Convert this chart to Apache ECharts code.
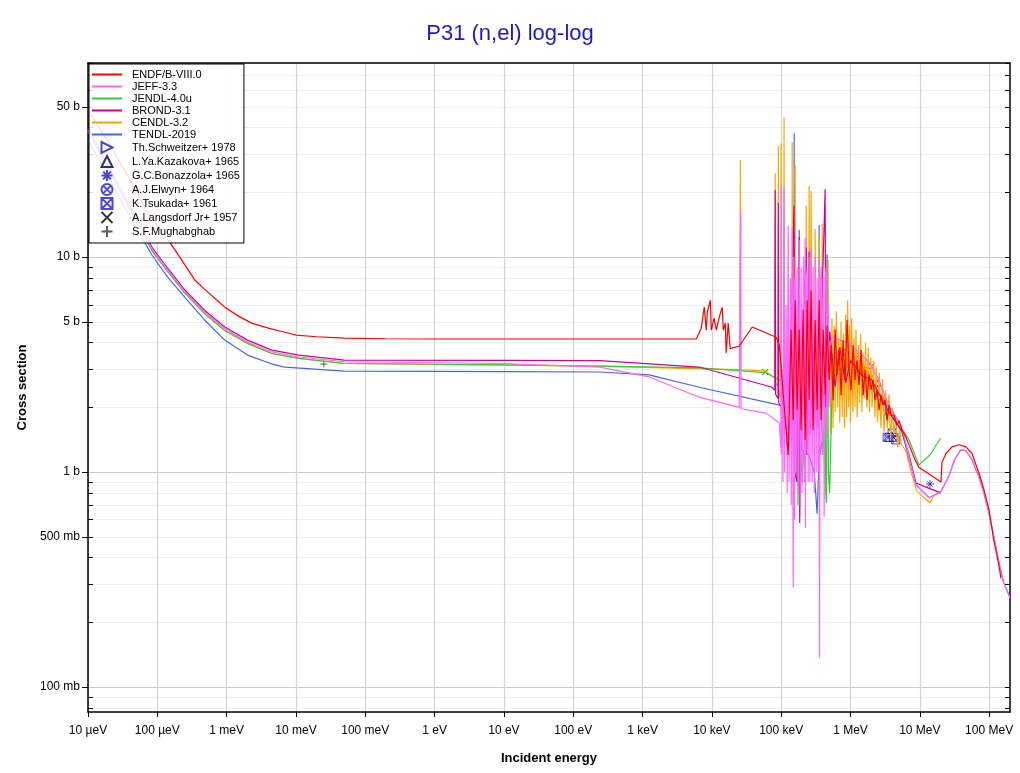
<!DOCTYPE html>
<html>
<head>
<meta charset="utf-8">
<script src="https://cdn.jsdelivr.net/npm/echarts@6/dist/echarts.min.js"></script>
<style>html,body{margin:0;padding:0;background:#fff}#container1{width:1020px;height:773px}</style>
</head>
<body>
<div id="container1"></div>
<script>
var myChart = echarts.init(document.getElementById('container1'));

// axis ticks
const xTickValues = [1e-5,1e-4,1e-3,1e-2,1e-1,1,10,100,1e3,1e4,1e5,1e6,1e7,1e8];
const xTickLabels = ['10 µeV','100 µeV','1 meV','10 meV','100 meV','1 eV','10 eV','100 eV','1 keV','10 keV','100 keV','1 MeV','10 MeV','100 MeV'];
const yTickValues = [0.1,0.5,1,5,10,50];
const yTickLabels = ['100 mb','500 mb','1 b','5 b','10 b','50 b'];
const yDecades = [0.1,1,10];
const yMinor = [0.08,0.09,0.2,0.3,0.4,0.5,0.6,0.7,0.8,0.9,2,3,4,5,6,7,8,9,20,30,40,50,60,70,80];

// evaluated data [E (eV), sigma (b)]
const endf = [[1e-5,48],[2e-5,34],[4e-5,23],[7e-5,16.5],[1e-4,14],[1.7e-4,11.1],[2.5e-4,9.2],[3.5e-4,7.8],[5e-4,7.0],[7e-4,6.37],[9.4e-4,5.85],[1.5e-3,5.3],[2.3e-3,4.93],[4e-3,4.67],[6e-3,4.52],[1e-2,4.34],[2e-2,4.26],[0.05,4.2],[0.2,4.17],[1,4.16],[100,4.16],[5960,4.16],
[7030,4.67],[7760,5.85],[8300,4.58],[8600,5.54],[9500,6.3],[9800,4.58],[10800,5.2],[11600,4.58],[12800,5.26],[14100,5.85],[14600,4.58],[15600,4.93],[16100,3.58],[17200,4.93],[18400,3.74],[19700,3.78],[24800,3.85],[38200,4.73],[84700,4.24],
[9.4e4,3.9],[1.03e5,2.68],[1.26e5,1.2],[1.39e5,4.6],[1.49e5,1.74],[1.59e5,6.3],[1.7e5,1.94],[1.82e5,4.6],[1.94e5,1.57],[2.07e5,5.7],[2.22e5,1.41],[2.37e5,6.3],[2.53e5,2.16],[2.7e5,7.0],[2.89e5,1.57],[3.09e5,5.1],[3.3e5,1.94],[3.53e5,6.3],[3.77e5,1.74],[4.03e5,4.6],[4.31e5,2.28],[4.6e5,4.8],[4.92e5,2.68],[5.25e5,3.9],[5.61e5,2.16],[6.0e5,4.6],[6.41e5,2.83],[6.86e5,3.7],[7.32e5,2.28],[7.82e5,4.1],[8.36e5,2.68],[8.93e5,5.1],[9.55e5,2.98],[1.02e6,2.41],[1.09e6,3.9],[1.16e6,2.68],[1.24e6,3.3],[1.33e6,2.54],[1.42e6,3.7],[1.52e6,2.28],[1.62e6,2.98],[1.73e6,2.16],[1.85e6,2.83],[1.98e6,2.41],[2.12e6,2.68],[2.26e6,2.16],[2.42e6,2.41],[2.58e6,1.94],[2.76e6,2.28],[2.95e6,2.05],[3.15e6,2.16],[3.37e6,1.74],[3.6e6,2.05],[3.85e6,1.84],[4.25e6,1.84],[4.69e6,1.65],[5.01e6,1.74],[5.54e6,1.57],[6.33e6,1.45],[7.47e6,1.27],[8.53e6,1.14],[9.73e6,1.05],[1.36e7,0.98],[2.02e7,0.9],[2.09e7,1.11],[2.39e7,1.22],[2.91e7,1.31],[3.67e7,1.34],[4.63e7,1.31],[5.65e7,1.22],[7.13e7,0.99],[8.41e7,0.83],[9.93e7,0.67],[1.17e8,0.48],[1.38e8,0.37],[1.48e8,0.32]];

const jeff = [[1e-5,39.2],[2e-5,25.7],[4e-5,17],[8.4e-5,10.9],[1.4e-4,8.7],[2.5e-4,6.9],[4.8e-4,5.55],[9.4e-4,4.64],[2e-3,4.03],[4.5e-3,3.62],[1.1e-2,3.43],[0.05,3.26],[10,3.2],[240,3.08],[1250,2.77],[6600,2.23],[24800,2.0],[26000,1.98],[26100,16.5],[26300,1.97],[61000,1.88],[94000,1.69],
[99000,1.3],[99800,21.4],[100500,1.2],[104000,3],[106000,0.9],[110000,21],[112000,1.0],[118000,6],[122000,0.8],[126000,14],[130000,0.9],[136000,8],[140000,0.7],[144000,13.4],[149000,0.29],[152000,10],[156000,0.6],[159000,8],[164000,1.0],[170000,9],[175000,0.8],[182000,12],[188000,0.7],[194000,9],[200000,0.8],[210000,10],[216000,0.9],[222000,12.3],[224000,0.55],[230000,8],[237000,9],[245000,0.9],[253000,10],[260000,0.9],[270000,11],[280000,0.9],[289000,9],[300000,0.8],[309000,10],[320000,1.0],[330000,8],[340000,1.0],[353000,9.7],[357000,0.137],[365000,7],[377000,9],[390000,1.2],[403000,8],[417000,0.62],[430000,8],[446000,9],[460000,1.5],[476000,6],[490000,2],[508000,4.0],
[550000,4.24],[955000,3.97],[1.85e6,3.25],[2.58e6,2.68],[3.4e6,2.1],[5.5e6,1.62],[7.0e6,1.17],[8.8e6,0.87],[1.36e7,0.76],[2.0e7,0.81],[2.6e7,0.95],[3.2e7,1.15],[3.9e7,1.27],[4.6e7,1.26],[5.6e7,1.15],[7.1e7,0.95],[8.4e7,0.8],[9.9e7,0.65],[1.17e8,0.5],[1.38e8,0.38],[1.6e8,0.31],[2e8,0.26]];

const jendl = [[1e-5,38.6],[2e-5,25.3],[4e-5,16.7],[8.4e-5,10.7],[1.4e-4,8.6],[2.5e-4,6.8],[4.8e-4,5.46],[9.4e-4,4.56],[2e-3,3.97],[4.5e-3,3.56],[1.1e-2,3.38],[0.05,3.2],[10,3.15],[240,3.11],[6600,3.05],[60000,2.9],[94000,2.68],[130000,2.5],[148000,2.3],[150000,13.1],[152000,0.64],[160000,2.3],[165000,0.9],[170000,4],[175000,0.7],[180000,3.0],[200000,0.9],[220000,1.5],[250000,4.0],[300000,1.6],[350000,3.5],[400000,1.2],[430000,2.0],[440000,0.8],[450000,0.72],[460000,4],[470000,3.5],[480000,1.0],[500000,0.8],[550000,2.9],[650000,3.0],[1e6,3.0],[1.4e6,2.9],[1.85e6,2.59],[2.5e6,2.2],[4e6,1.94],[5.5e6,1.6],[7e6,1.41],[9.7e6,1.08],[1.4e7,1.2],[2.0e7,1.44]];

const brond = [[1e-5,40],[2e-5,26.2],[4e-5,17.3],[8.4e-5,11.1],[1.4e-4,8.9],[2.5e-4,7.03],[4.8e-4,5.66],[9.4e-4,4.73],[2e-3,4.11],[4.5e-3,3.69],[1.1e-2,3.5],[0.05,3.32],[10,3.31],[240,3.3],[6600,3.08],[74000,2.48],[81000,2.4],[82000,20.5],[83000,2.3],[90000,2.2],[91000,17.9],[92000,2.1],[110000,1.9],[130000,1.3],[153000,17.4],[156000,1.0],[170000,0.9],[182000,12.4],[185000,0.58],[200000,3.0],[230000,11.1],[235000,1.2],[253000,10.6],[260000,1.5],[300000,4.0],[340000,1.6],[380000,5.0],[431000,20.7],[440000,2.0],[500000,4.5],[600000,2.5],[700000,3.8],[850000,2.6],[1e6,3.3],[1.5e6,2.8],[2e6,2.7],[3e6,2.1],[4e6,1.8],[5.5e6,1.55],[7e6,1.2],[8.8e6,0.89],[1.36e7,0.84],[2.0e7,0.8]];

const cendl = [[1e-5,38.6],[2e-5,25.3],[4e-5,16.7],[8.4e-5,10.7],[1.4e-4,8.6],[2.5e-4,6.8],[4.8e-4,5.46],[9.4e-4,4.56],[2e-3,3.97],[4.5e-3,3.56],[1.1e-2,3.38],[0.05,3.2],[240,3.11],[6600,3.02],[25000,3.0],[25800,28.3],[26200,3.0],[59000,2.95],[80000,2.75],[81500,2.7],[82000,24.6],[83000,2.6],[90000,2.5],[91000,32.9],[92000,2.4],[99000,2.2],[99800,33.9],[101000,2.0],[109000,1.8],[110000,44.8],[112000,1.6],[143000,1.5],[144000,34.2],[146000,1.4],[158000,1.5],[159000,26.8],[161000,1.5],[228000,2],[230000,17.4],[233000,2],[251000,2],[253000,21.4],[262000,2],[270000,20.3],[280000,2],[305000,2.2],[309000,13.5],[320000,2.2],[350000,2.5],[353000,12.4],[360000,2.4],[386000,2.6],[390000,14.3],[400000,2.6],[470000,2.8],[476000,9.7],[485000,2.5],
[505000,4.5],[520000,1.5],[540000,5.2],[560000,1.6],[580000,4.8],[600000,1.9],[625000,5.6],[650000,2.0],[675000,4.2],[700000,1.7],[730000,5.0],[760000,1.8],[790000,4.4],[820000,1.6],[850000,5.4],[880000,1.8],[910000,6.3],[940000,2.0],[970000,4.8],[1.0e6,1.7],[1.04e6,5.2],[1.08e6,1.9],[1.12e6,4.2],[1.16e6,2.0],[1.2e6,4.6],[1.25e6,1.8],[1.3e6,3.9],[1.35e6,2.1],[1.4e6,4.4],[1.46e6,1.9],[1.52e6,3.6],[1.58e6,2.2],[1.65e6,4.0],[1.72e6,2.0],[1.8e6,3.8],[1.88e6,1.9],[1.96e6,3.4],[2.05e6,2.0],[2.15e6,3.3],[2.25e6,1.8],[2.35e6,3.1],[2.45e6,1.7],[2.6e6,2.9],[2.75e6,1.6],[2.9e6,2.7],[3.05e6,1.5],[3.2e6,2.4],[3.4e6,1.6],[3.6e6,2.3],[3.8e6,1.4],[4.0e6,2.0],[4.25e6,1.5],[4.5e6,1.8],[4.8e6,1.3],[5.1e6,1.6],[5.4e6,1.35],[6.3e6,1.25],[7.5e6,1.0],[9e6,0.82],[1.15e7,0.76],[1.4e7,0.72],[1.6e7,0.78],[2.0e7,0.8]];

const tendl = [[1e-5,35],[2e-5,23.5],[4e-5,15.5],[8.4e-5,10.2],[1.4e-4,8.1],[2.5e-4,6.5],[4.8e-4,5.1],[9.4e-4,4.11],[2e-3,3.5],[4.5e-3,3.18],[6.9e-3,3.08],[0.05,2.95],[10,2.93],[240,2.92],[1250,2.83],[6600,2.48],[94000,2.05],[103000,2.02],[130000,2.0],[145000,1.8],[152000,1.7],[154000,37.7],[156000,1.5],[180000,1.35],[182000,13.4],[186000,1.3],[250000,1.2],[300000,1.0],[330000,0.64],[350000,1.1],[353000,14.1],[360000,1.2],[420000,1.6],[460000,10.3],[470000,2.0],[550000,3.5],[700000,3.2],[1e6,3.0],[1.5e6,2.8],[2e6,2.6],[3e6,2.2],[4e6,1.85],[5.5e6,1.55],[7e6,1.15],[8.8e6,0.87],[1.36e7,0.76],[2.0e7,0.81],[2.6e7,0.95],[3.2e7,1.15],[3.9e7,1.27],[4.6e7,1.26],[5.6e7,1.15],[7.1e7,0.95],[8.4e7,0.8],[9.9e7,0.65],[1.17e8,0.5],[1.38e8,0.38],[1.6e8,0.31],[2e8,0.26]];

// experimental data
const schweitzer = [[3.2e5,3.3],[3.4e5,2.9],[5.0e5,2.6],[7.5e5,3.5],[7.8e5,2.8],[9.0e5,3.0],[1.1e6,3.3],[1.4e6,3.0],[1.9e6,2.8],[2.3e6,2.5],[3.0e6,2.2],[3.5e6,1.9]];
const kazakova = [[1.5e6,3.1],[2.5e6,2.6]];
const bonazzola = [[1.4e7,0.88]];
const elwyn = [[1.05e6,2.9],[1.3e6,3.2]];
const tsukada = [[3.37e6,1.45],[3.6e6,1.45],[3.98e6,1.52],[4.2e6,1.45],[4.5e6,1.41]];
const langsdorf = [[5.9e4,2.92],[5.6e5,3.5],[8e5,3.7],[1.2e6,3.5],[1.6e6,3.0],[2e6,3.1]];
const mughabghab = [[0.0253,3.18]];

initChart();

function initChart(){
const font = 'Liberation Sans, Arial, sans-serif';
const xMin = 1e-5, xMax = 2e8, yMin = 0.0765, yMax = 80;
const lineIcon = 'path://M0,0 L30,0 L30,2 L0,2 Z';

function labelOf(vals, labels, v){
    for (var i = 0; i < vals.length; i++) {
        if (Math.abs(Math.log10(vals[i]) - Math.log10(v)) < 1e-6) return labels[i];
    }
    return '';
}

function lineSeries(name, data, color){
    return {name: name, type: 'line', data: data, symbol: 'none', silent: true,
        lineStyle: {width: 1.2, color: color}, itemStyle: {color: color}};
}
function markSeries(name, data, symbol, color, size){
    return {name: name, type: 'scatter', data: data, symbol: symbol, symbolSize: size || 6,
        itemStyle: {color: 'rgba(0,0,0,0)', borderColor: color, borderWidth: 1}};
}

const sTriR = 'path://M0,0 L10,5 L0,10 Z';
const sTriU = 'path://M5,0 L10,10 L0,10 Z';
const sStar = 'path://M5,0 L5,10 M0,5 L10,5 M1.5,1.5 L8.5,8.5 M8.5,1.5 L1.5,8.5';
const sCircX = 'path://M10,5 A5,5 0 1 1 0,5 A5,5 0 1 1 10,5 Z M1.5,1.5 L8.5,8.5 M8.5,1.5 L1.5,8.5';
const sBoxX = 'path://M0,0 L10,0 L10,10 L0,10 Z M0,0 L10,10 M10,0 L0,10';
const sX = 'path://M0,0 L10,10 M10,0 L0,10';
const sPlus = 'path://M5,0 L5,10 M0,5 L10,5';

var libs = ['ENDF/B-VIII.0','JEFF-3.3','JENDL-4.0u','BROND-3.1','CENDL-3.2','TENDL-2019'];
var exps = ['Th.Schweitzer+ 1978','L.Ya.Kazakova+ 1965','G.C.Bonazzola+ 1965','A.J.Elwyn+ 1964','K.Tsukada+ 1961','A.Langsdorf Jr+ 1957','S.F.Mughabghab'];
var legendData = libs.map(function(n){ return {name: n, icon: lineIcon}; }).concat(exps);

var option = {
    animation: false,
    backgroundColor: '#fff',
    title: {text: 'P31 (n,el) log-log', left: 'center', top: 18,
        textStyle: {color: '#1a1acc', fontSize: 22, fontWeight: 'normal', fontFamily: font}},
    legend: {
        orient: 'vertical', left: 89, top: 64,
        data: legendData,
        itemWidth: 30, itemHeight: 11, itemGap: 1,
        padding: [5, 4, 5, 3],
        backgroundColor: 'rgba(255,255,255,0.85)', borderColor: '#000', borderWidth: 1,
        textStyle: {fontSize: 11, lineHeight: 11, color: '#000', fontFamily: font, padding: [0, 0, 0, 5]}
    },
    grid: {left: 88, right: 10, top: 63, bottom: 61},
    xAxis: [{
        type: 'log', min: xMin, max: xMax, position: 'bottom',
        name: 'Incident energy', nameLocation: 'middle', nameGap: 40,
        nameTextStyle: {fontWeight: 'bold', fontSize: 13, color: '#000', fontFamily: font},
        axisLine: {lineStyle: {color: '#000', width: 1.5}},
        axisTick: {customValues: xTickValues, length: 5, lineStyle: {color: '#000'}},
        axisLabel: {customValues: xTickValues, fontSize: 12, color: '#000', fontFamily: font, margin: 13,
            formatter: function(v){ return labelOf(xTickValues, xTickLabels, v); }},
        splitLine: {show: true, lineStyle: {color: '#d4d4d4', width: 1.2}}
    }, {
        type: 'log', min: xMin, max: xMax, position: 'top',
        axisLine: {lineStyle: {color: '#000', width: 1.5}},
        axisTick: {show: false},
        axisLabel: {show: false}, splitLine: {show: false}
    }],
    yAxis: [{
        type: 'log', min: yMin, max: yMax, position: 'left',
        name: 'Cross section', nameLocation: 'middle', nameGap: 54,
        nameTextStyle: {fontWeight: 'bold', fontSize: 13, color: '#000', fontFamily: font},
        axisLine: {lineStyle: {color: '#000', width: 1.5}},
        axisTick: {customValues: yTickValues, length: 6, lineStyle: {color: '#000'}},
        axisLabel: {customValues: yTickValues, fontSize: 12, color: '#000', fontFamily: font, margin: 8,
            formatter: function(v){ return labelOf(yTickValues, yTickLabels, v); }},
        splitLine: {show: false}
    }, {
        type: 'log', min: yMin, max: yMax, position: 'left',
        axisLine: {show: false},
        axisTick: {customValues: yMinor, inside: true, length: 5, lineStyle: {color: '#000'}},
        axisLabel: {show: false},
        splitLine: {show: true, lineStyle: {color: '#eeeeee', width: 1}}
    }, {
        type: 'log', min: yMin, max: yMax, position: 'left',
        axisLine: {show: false},
        axisTick: {show: false, customValues: yDecades},
        axisLabel: {show: false},
        splitLine: {show: true, lineStyle: {color: '#cccccc', width: 1.2}}
    }, {
        type: 'log', min: yMin, max: yMax, position: 'right',
        axisLine: {lineStyle: {color: '#000', width: 1.5}},
        axisTick: {customValues: yMinor.concat(yDecades), inside: true, length: 5, lineStyle: {color: '#000'}},
        axisLabel: {show: false}, splitLine: {show: false}
    }],
    series: [
        lineSeries('TENDL-2019', tendl, '#4169e1'),
        lineSeries('CENDL-3.2', cendl, '#ffa500'),
        lineSeries('JENDL-4.0u', jendl, '#33cc33'),
        lineSeries('BROND-3.1', brond, '#cc0099'),
        lineSeries('JEFF-3.3', jeff, '#ff66ff'),
        lineSeries('ENDF/B-VIII.0', endf, '#ff0000'),
        markSeries('Th.Schweitzer+ 1978', schweitzer, sTriR, '#1a1acc', 6),
        markSeries('L.Ya.Kazakova+ 1965', kazakova, sTriU, '#000040', 6),
        markSeries('G.C.Bonazzola+ 1965', bonazzola, sStar, '#1a1acc', 8),
        markSeries('A.J.Elwyn+ 1964', elwyn, sCircX, '#1a1acc', 6),
        markSeries('K.Tsukada+ 1961', tsukada, sBoxX, '#1a1acc', 8),
        markSeries('A.Langsdorf Jr+ 1957', langsdorf, sX, '#000000', 6),
        markSeries('S.F.Mughabghab', mughabghab, sPlus, '#333333', 7)
    ]
};
myChart.setOption(option);
}
</script>
</body>
</html>
